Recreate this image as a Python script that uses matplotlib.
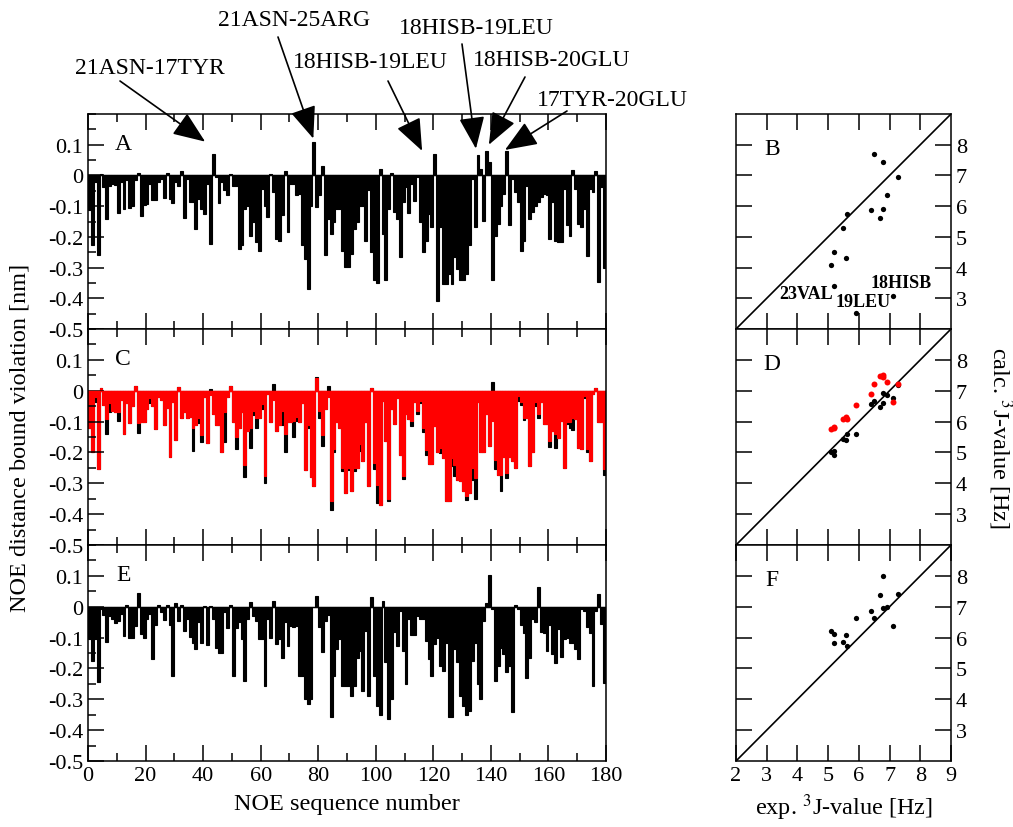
import numpy as np
import matplotlib
matplotlib.use('Agg')
import matplotlib.pyplot as plt
from matplotlib.ticker import MultipleLocator, FixedLocator

plt.rcParams['font.family'] = ['Liberation Serif', 'DejaVu Serif']
plt.rcParams['mathtext.fontset'] = 'stix'
plt.rcParams['axes.unicode_minus'] = False

# ── data ──────────────────────────────────────────────────────────────────────
noe_index = np.arange(180)

viol_a = [-0.114, -0.228, -0.022, -0.258, 0.005, -0.038, -0.143, -0.033, -0.027, -0.03,
          -0.123, -0.022, -0.109, -0.016, -0.105, -0.10, -0.016, 0.008, -0.133, -0.096,
          -0.092, -0.027, -0.079, -0.079, -0.022, -0.011, -0.074, 0.008, -0.076, -0.09,
          -0.022, -0.033, 0.016, -0.138, -0.011, -0.087, -0.087, -0.174, -0.076, -0.109,
          -0.125, -0.027, -0.223, 0.07, -0.005, -0.089, -0.022, -0.049, -0.065, 0.005,
          -0.033, -0.033, -0.239, -0.226, -0.109, -0.10, -0.196, -0.152, -0.217, -0.247,
          -0.043, -0.098, -0.136, 0.005, -0.054, -0.207, -0.212, -0.13, 0.013, -0.185,
          -0.027, -0.027, -0.065, -0.06, -0.228, -0.272, -0.37, -0.10, 0.109, -0.103,
          -0.065, 0.03, -0.258, -0.141, -0.19, -0.152, -0.109, -0.11, -0.245, -0.299,
          -0.299, -0.255, -0.174, -0.152, -0.098, -0.10, -0.212, -0.049, -0.248, -0.342,
          -0.351, 0.02, -0.19, -0.342, -0.109, 0.008, -0.12, -0.141, -0.266, -0.087,
          -0.038, -0.122, -0.027, -0.082, -0.005, -0.152, -0.248, -0.215, -0.125, -0.168,
          0.07, -0.41, -0.168, -0.355, -0.355, -0.32, -0.355, -0.266, -0.304, -0.342,
          -0.342, -0.32, -0.228, -0.011, -0.168, 0.065, 0.02, -0.147, 0.08, 0.043,
          -0.339, -0.196, -0.158, -0.098, -0.06, 0.08, -0.163, -0.01, -0.054, -0.087,
          -0.245, -0.212, -0.033, -0.141, -0.12, -0.098, -0.087, -0.07, -0.06, -0.065,
          -0.207, -0.087, -0.212, -0.217, -0.217, -0.043, -0.163, -0.196, 0.018, -0.045,
          -0.158, -0.168, -0.109, -0.261, -0.043, -0.054, 0.013, -0.348, -0.038, -0.30]

viol_c_red = [-0.12, -0.2, -0.02, -0.255, 0.008, -0.045, -0.092, -0.04, -0.065, -0.07,
              -0.07, -0.03, -0.14, -0.04, -0.105, -0.05, 0.015, -0.105, -0.10, -0.10,
              -0.06, -0.025, -0.05, -0.125, -0.02, -0.03, -0.11, -0.055, -0.215, -0.035,
              -0.16, 0.013, -0.09, -0.07, -0.09, -0.085, -0.12, -0.11, -0.087, -0.145,
              -0.02, -0.168, -0.015, -0.075, -0.11, -0.11, -0.2, -0.07, -0.02, 0.016,
              -0.10, -0.15, -0.12, -0.07, -0.24, -0.13, -0.12, -0.065, -0.09, -0.09,
              -0.043, -0.275, -0.012, -0.10, -0.03, -0.13, -0.11, -0.067, -0.14, -0.1,
              -0.1, -0.098, -0.085, -0.1, -0.04, -0.258, -0.11, -0.28, -0.31, 0.04,
              -0.065, -0.145, -0.06, -0.02, -0.358, -0.19, -0.1, -0.12, -0.25, -0.33,
              -0.25, -0.326, -0.25, -0.25, -0.174, -0.228, -0.103, -0.308, 0.01, -0.234,
              -0.304, -0.37, -0.033, -0.163, -0.35, -0.06, -0.109, -0.022, -0.207, -0.277,
              -0.076, -0.092, -0.098, -0.038, -0.065, -0.033, -0.12, -0.193, -0.237, -0.237,
              -0.114, -0.2, -0.187, -0.217, -0.359, -0.359, -0.217, -0.24, -0.288, -0.293,
              -0.326, -0.342, -0.332, -0.25, -0.283, -0.038, -0.2, -0.2, -0.076, -0.18,
              -0.098, -0.223, -0.272, -0.272, -0.215, -0.266, -0.215, -0.228, -0.25, -0.016,
              -0.035, -0.087, -0.087, -0.245, -0.2, -0.038, -0.076, -0.038, -0.109, -0.109,
              -0.163, -0.13, -0.141, -0.152, -0.098, -0.252, -0.1, -0.103, -0.087, -0.092,
              -0.187, -0.19, -0.016, -0.19, -0.228, -0.011, 0.008, -0.103, -0.103, -0.255]

viol_c_black = [-0.12, -0.2, -0.038, -0.255, 0.008, -0.045, -0.14, -0.07, -0.065, -0.07,
                -0.098, -0.03, -0.14, -0.04, -0.105, -0.05, 0.015, -0.136, -0.10, -0.10,
                -0.06, -0.04, -0.05, -0.125, -0.02, -0.03, -0.11, -0.055, -0.215, -0.035,
                -0.16, 0.013, -0.09, -0.07, -0.09, -0.085, -0.195, -0.11, -0.105, -0.165,
                -0.02, -0.168, 0.007, -0.075, -0.11, -0.11, -0.2, -0.167, -0.02, 0.016,
                -0.10, -0.188, -0.12, -0.07, -0.28, -0.13, -0.185, -0.08, -0.122, -0.09,
                -0.058, -0.30, -0.012, -0.10, 0.022, -0.13, -0.11, -0.11, -0.2, -0.1,
                -0.1, -0.15, -0.098, -0.1, -0.04, -0.258, -0.122, -0.28, -0.31, 0.045,
                -0.087, -0.18, -0.06, 0.015, -0.385, -0.2, -0.1, -0.12, -0.26, -0.33,
                -0.258, -0.326, -0.26, -0.25, -0.196, -0.228, -0.103, -0.308, 0.01, -0.255,
                -0.364, -0.37, -0.033, -0.163, -0.357, -0.06, -0.109, -0.022, -0.207, -0.285,
                -0.076, -0.092, -0.114, -0.038, -0.074, -0.041, -0.133, -0.209, -0.237, -0.237,
                -0.114, -0.2, -0.203, -0.217, -0.359, -0.359, -0.245, -0.277, -0.288, -0.293,
                -0.326, -0.353, -0.332, -0.288, -0.35, -0.038, -0.2, -0.2, -0.076, -0.18,
                0.029, -0.255, -0.272, -0.326, -0.215, -0.283, -0.215, -0.228, -0.25, -0.033,
                -0.047, -0.096, -0.087, -0.245, -0.2, -0.049, -0.089, -0.038, -0.109, -0.109,
                -0.183, -0.13, -0.185, -0.152, -0.098, -0.252, -0.109, -0.12, -0.128, -0.092,
                -0.187, -0.19, -0.022, -0.199, -0.228, -0.011, 0.008, -0.103, -0.103, -0.274]

viol_e = [-0.105, -0.176, -0.105, -0.245, -0.008, -0.027, -0.114, -0.03, -0.04, -0.053,
          -0.046, -0.024, -0.095, 0.007, -0.102, -0.102, -0.064, 0.043, -0.087, -0.1,
          -0.04, -0.024, -0.168, -0.06, 0.005, -0.018, -0.043, 0.005, -0.06, -0.225,
          0.012, -0.046, 0.007, -0.08, -0.04, -0.097, -0.116, -0.136, -0.051, -0.116,
          0.003, -0.125, 0.003, -0.04, -0.133, -0.151, -0.151, -0.016, -0.07, 0.005,
          -0.225, -0.07, -0.051, -0.105, -0.241, -0.04, 0.014, -0.03, -0.046, -0.105,
          -0.105, -0.258, -0.04, -0.103, 0.02, -0.122, -0.105, -0.165, -0.051, -0.127,
          -0.062, -0.067, -0.062, -0.223, -0.223, -0.3, -0.314, -0.30, -0.002, 0.034,
          -0.067, -0.146, -0.046, -0.027, -0.358, -0.225, -0.138, -0.105, -0.258, -0.258,
          -0.258, -0.288, -0.258, -0.165, -0.143, -0.274, -0.08, -0.29, 0.033, -0.225,
          -0.323, -0.35, 0.018, -0.179, -0.363, -0.30, -0.082, -0.127, -0.013, -0.143,
          -0.249, -0.04, -0.091, -0.091, -0.029, -0.04, -0.04, -0.111, -0.168, -0.225,
          -0.122, -0.1, -0.192, -0.209, -0.116, -0.358, -0.358, -0.138, -0.179, -0.288,
          -0.323, -0.35, -0.339, -0.176, -0.116, -0.252, -0.299, -0.046, 0.012, 0.103,
          -0.008, -0.241, -0.192, -0.133, -0.154, -0.212, -0.192, -0.342, 0.005, -0.008,
          -0.06, -0.084, -0.23, -0.165, -0.04, -0.051, 0.063, -0.082, -0.084, -0.143,
          -0.06, -0.154, -0.184, -0.073, -0.162, -0.105, -0.1, -0.116, -0.116, -0.138,
          -0.171, -0.008, -0.013, -0.067, -0.084, -0.258, -0.013, 0.041, -0.057, -0.247]

# 3J couplings: experimental vs calculated
exp_j = [5.08, 5.18, 5.18, 5.48, 5.59, 5.60, 5.91, 6.39, 6.49, 6.69, 6.79, 6.79, 6.90, 7.10, 7.29]
calc_b = [4.10, 4.51, 3.40, 5.28, 4.30, 5.73, 2.52, 5.86, 7.69, 5.61, 7.45, 5.91, 6.35, 3.07, 6.94]
calc_d_black = [5.00, 5.05, 4.93, 5.45, 5.41, 5.61, 5.61, 6.56, 6.67, 6.48, 6.94, 6.60, 6.86, 6.77, 7.20]
calc_d_red = [5.75, 5.84, 5.80, 6.08, 6.16, 6.08, 6.55, 6.88, 7.23, 7.48, 7.50, 7.45, 7.27, 6.65, 7.21]
calc_f = [6.22, 6.11, 5.81, 5.85, 6.09, 5.74, 6.63, 6.87, 6.63, 7.38, 7.98, 6.95, 6.98, 6.36, 7.41]

# annotated NOE pairs: label, (tip x, tip y) in data, label centre / arrow tail in pixels
noe_labels = ['21ASN-17TYR', '21ASN-25ARG', '18HISB-19LEU', '18HISB-19LEU',
              '18HISB-20GLU', '17TYR-20GLU']
noe_tips = [(40.7, 0.11), (78.3, 0.12), (116.1, 0.08), (134.8, 0.087), (139.3, 0.10), (144.9, 0.083)]
noe_text_px = [(150, 68), (294, 20), (370, 63), (476, 28), (552, 60), (612, 100)]
noe_tail_px = [(120, 82), (278, 38), (388, 82), (462, 45), (525, 78), (567, 112)]

# ── layout ────────────────────────────────────────────────────────────────────
W, H = 1013, 828
fig = plt.figure(figsize=(W / 100, H / 100), dpi=100)
fig.patch.set_facecolor('white')


def px_rect(x0, y0, x1, y1):
    return [x0 / W, 1 - y1 / H, (x1 - x0) / W, (y1 - y0) / H]


def px_fig(x, y):
    return (x / W, 1 - y / H)


FS = 16
TICK_MAJ, TICK_MIN, LW = 11.5, 5.8, 1.1


def bar_axes(rect, letter, show_x):
    ax = fig.add_axes(rect)
    ax.set_xlim(0, 180)
    ax.set_ylim(-0.5, 0.2)
    ax.xaxis.set_major_locator(MultipleLocator(20))
    ax.xaxis.set_minor_locator(MultipleLocator(10))
    yt = [-0.5, -0.4, -0.3, -0.2, -0.1, 0.0, 0.1]
    ax.yaxis.set_major_locator(FixedLocator(yt))
    ax.set_yticklabels(['-0.5', '-0.4', '-0.3', '-0.2', '-0.1', '0', '0.1'])
    ax.yaxis.set_minor_locator(MultipleLocator(0.05))
    ax.tick_params(which='both', direction='in', top=True, right=False,
                   width=LW, labelsize=FS, labelbottom=show_x)
    ax.tick_params(which='major', length=TICK_MAJ)
    ax.tick_params(which='minor', length=TICK_MIN)
    for s in ax.spines.values():
        s.set_linewidth(LW)
    ax.text(0.068, 0.865, letter, transform=ax.transAxes, fontsize=17,
            ha='center', va='center')
    return ax


def j_axes(rect, letter, show_x):
    ax = fig.add_axes(rect)
    ax.set_xlim(2, 9)
    ax.set_ylim(2, 9)
    ax.set_xticks(range(2, 10) if show_x else range(3, 9))
    ax.set_yticks(range(3, 9))
    ax.tick_params(direction='in', top=True, right=True, left=True, width=LW,
                   length=TICK_MAJ, labelsize=FS, labelleft=False, labelright=True,
                   labelbottom=show_x)
    for s in ax.spines.values():
        s.set_linewidth(LW)
    ax.plot([2, 9], [2, 9], color='black', lw=1.2)
    ax.text(0.167, 0.84, letter, transform=ax.transAxes, fontsize=17,
            ha='center', va='center')
    return ax


def violation_bars(ax, values, color):
    # a thin outline in the fill colour closes the hairline seams between bars
    ax.bar(noe_index, values, width=1.0, align='edge', color=color,
           edgecolor=color, linewidth=0.8)


# ── NOE violation panels ──────────────────────────────────────────────────────
ax_a = bar_axes(px_rect(88, 115, 606, 330), 'A', False)
violation_bars(ax_a, viol_a, 'black')
ax_a.axhline(0, color='black', lw=1.0)

ax_c = bar_axes(px_rect(88, 330, 606, 546), 'C', False)
violation_bars(ax_c, viol_c_black, 'black')
violation_bars(ax_c, viol_c_red, '#ff0000')
ax_c.axhline(0, color='#ff0000', lw=1.0)

ax_e = bar_axes(px_rect(88, 546, 606, 762), 'E', True)
violation_bars(ax_e, viol_e, 'black')
ax_e.axhline(0, color='black', lw=1.0)
ax_e.set_xlabel('NOE sequence number', fontsize=17.5, labelpad=6)

fig.text(0.02, 1 - 438 / H, 'NOE distance bound violation [nm]', rotation=90,
         fontsize=17.5, ha='center', va='center')

for lab, tip, tpx, tail in zip(noe_labels, noe_tips, noe_text_px, noe_tail_px):
    fig.text(*px_fig(*tpx), lab, fontsize=17, ha='center', va='center')
    ax_a.annotate('', xy=tip, xycoords='data', xytext=px_fig(*tail),
                  textcoords='figure fraction', annotation_clip=False,
                  arrowprops=dict(arrowstyle='-|>,head_length=0.8,head_width=0.32',
                                  mutation_scale=25, color='black', lw=1.2,
                                  shrinkA=0, shrinkB=0))

# ── 3J coupling panels ────────────────────────────────────────────────────────
ax_b = j_axes(px_rect(736, 115, 951, 330), 'B', False)
ax_b.plot(exp_j, calc_b, 'o', color='black', ms=3.8, mec='none')
ax_b.text(4.28, 3.14, '23VAL', fontsize=13, fontweight='bold', ha='center', va='center')
ax_b.text(6.14, 2.88, '19LEU', fontsize=13, fontweight='bold', ha='center', va='center')
ax_b.text(7.36, 3.5, '18HISB', fontsize=13, fontweight='bold', ha='center', va='center')

ax_d = j_axes(px_rect(736, 330, 951, 546), 'D', False)
ax_d.plot(exp_j, calc_d_black, 'o', color='black', ms=3.8, mec='none')
ax_d.plot(exp_j, calc_d_red, 'o', color='#ff0000', ms=4.3, mec='none')

ax_f = j_axes(px_rect(736, 546, 951, 762), 'F', True)
ax_f.plot(exp_j, calc_f, 'o', color='black', ms=3.8, mec='none')
ax_f.set_xlabel(r'exp. $^{3}$J-value [Hz]', fontsize=17.5, labelpad=5)

fig.text(1000 / W, 1 - 438 / H, r'calc. $^{3}$J-value [Hz]', rotation=270,
         fontsize=17.5, ha='center', va='center')

fig.savefig('out.png', dpi=100, facecolor='white')
